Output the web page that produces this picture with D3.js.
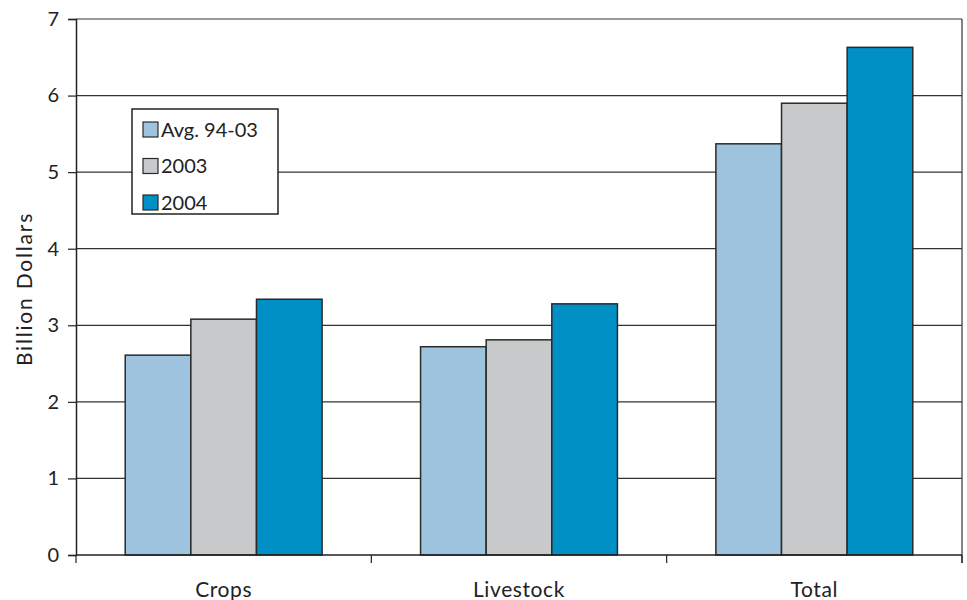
<!DOCTYPE html>
<html>
<head>
<meta charset="utf-8">
<script src="https://cdn.jsdelivr.net/npm/d3@7"></script>
<style>
  html, body { margin: 0; padding: 0; background: #fff; }
  svg text { font-family: "Lato", "Open Sans", sans-serif; fill: #222; }
</style>
</head>
<body>
<svg id="chart" width="967" height="600"></svg>
<script>
// Farm receipts by sector, billion dollars
const categories = ["Crops", "Livestock", "Total"];
const seriesNames = ["Avg. 94-03", "2003", "2004"];
const avgValues = [2.61, 2.72, 5.37];
const values2003 = [3.08, 2.81, 5.90];
const values2004 = [3.34, 3.28, 6.63];
const yTicks = [0, 1, 2, 3, 4, 5, 6, 7];
const colors = ["#9dc3df", "#c8c9cb", "#0090c5"];

const seriesValues = [avgValues, values2003, values2004];

const svg = d3.select("#chart");
const margin = { left: 76, right: 5, top: 19, bottom: 45 };
const W = 967, H = 600;
const plotW = W - margin.left - margin.right;
const plotH = H - margin.top - margin.bottom;

const g = svg.append("g").attr("transform", `translate(${margin.left},${margin.top})`);

const x0 = d3.scaleBand().domain(categories).range([0, plotW]).paddingInner(0).paddingOuter(0);
const x1 = d3.scaleBand().domain(seriesNames).range([x0.bandwidth() / 6, x0.bandwidth() * 5 / 6]);
const y = d3.scaleLinear().domain([0, 7]).range([plotH, 0]);

// Horizontal gridlines
g.append("g").selectAll("line").data(yTicks.filter(t => t > 0)).join("line")
  .attr("x1", 0).attr("x2", plotW)
  .attr("y1", d => y(d)).attr("y2", d => y(d))
  .attr("stroke", "#333").attr("stroke-width", 1.2);

// Right border
g.append("line").attr("x1", plotW).attr("x2", plotW).attr("y1", 0).attr("y2", plotH + 8)
  .attr("stroke", "#333").attr("stroke-width", 1.2);

// Bars
const groups = g.append("g").selectAll("g").data(categories).join("g")
  .attr("transform", d => `translate(${x0(d)},0)`);
groups.selectAll("rect")
  .data((c, i) => seriesNames.map((s, j) => ({ s, j, v: seriesValues[j][i] })))
  .join("rect")
  .attr("x", d => x1(d.s))
  .attr("width", x1.bandwidth())
  .attr("y", d => y(d.v))
  .attr("height", d => plotH - y(d.v))
  .attr("fill", d => colors[d.j])
  .attr("stroke", "#2a2a2a").attr("stroke-width", 1.5);

// Y axis
const yAxis = d3.axisLeft(y).tickValues(yTicks).tickFormat(d3.format("d")).tickSize(8).tickPadding(9);
const ya = g.append("g").call(yAxis);
ya.select(".domain").attr("stroke", "#222").attr("stroke-width", 1.5);
ya.selectAll(".tick line").attr("stroke", "#222").attr("stroke-width", 1.2);
ya.selectAll(".tick text").attr("font-size", 20).attr("font-family", "Lato, 'Open Sans', sans-serif").attr("fill", "#222");

// X axis with ticks at category boundaries
const xa = g.append("g").attr("transform", `translate(0,${plotH})`);
xa.append("line").attr("x1", 0).attr("x2", plotW).attr("stroke", "#222").attr("stroke-width", 1.5);
const bounds = categories.map(c => x0(c)).concat([plotW]);
xa.selectAll("line.tk").data(bounds).join("line").attr("class", "tk")
  .attr("x1", d => d).attr("x2", d => d).attr("y1", 0).attr("y2", 8)
  .attr("stroke", "#222").attr("stroke-width", 1.2);
xa.selectAll("text").data(categories).join("text")
  .attr("x", d => x0(d) + x0.bandwidth() / 2)
  .attr("y", 42)
  .attr("text-anchor", "middle")
  .attr("font-size", 21)
  .attr("letter-spacing", 0.6)
  .text(d => d);

// Y axis title
svg.append("text")
  .attr("transform", `translate(32,${margin.top + plotH / 2 + 2}) rotate(-90)`)
  .attr("text-anchor", "middle")
  .attr("font-size", 21)
  .attr("letter-spacing", 1.8)
  .text("Billion Dollars");

// Legend
const lg = svg.append("g").attr("transform", "translate(132,109)");
lg.append("rect").attr("width", 146).attr("height", 105)
  .attr("fill", "#fff").attr("stroke", "#222").attr("stroke-width", 1.5);
const items = lg.selectAll("g").data(seriesNames).join("g")
  .attr("transform", (d, i) => `translate(11,${13 + i * 36.5})`);
items.append("rect").attr("width", 15).attr("height", 15)
  .attr("fill", (d, i) => colors[i]).attr("stroke", "#2a2a2a").attr("stroke-width", 1.2);
items.append("text").attr("x", 18).attr("y", 14.5).attr("font-size", 20).text(d => d);
</script>
</body>
</html>
